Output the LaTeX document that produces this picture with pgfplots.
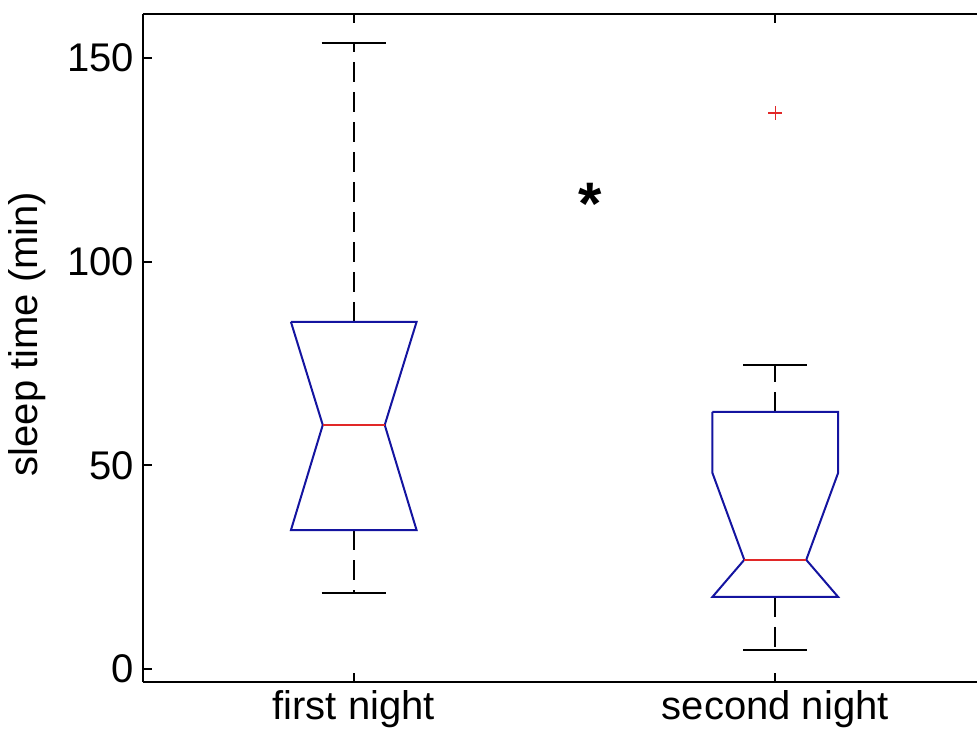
\documentclass[border=0pt]{standalone}
\usepackage{fontspec}
\setmainfont{Liberation Sans}
\usepackage{pgfplots}
\pgfplotsset{compat=1.18}
\definecolor{boxblue}{RGB}{20,20,160}
\definecolor{medred}{RGB}{225,40,40}
\pgfplotsset{common/.style={
  at={(0,0)}, anchor=south west,
  scale only axis,
  width=333.6pt, height=267.2pt,
  xmin=0.5, xmax=2.4786, ymin=-3.2, ymax=160.8,
  tick align=inside,
  major tick length=3.6pt,
  axis line style={line width=0.8pt},
  tick style={line width=0.8pt, black},
  clip=false,
}}
\begin{document}
\begin{tikzpicture}
\useasboundingbox (-57.2pt,-19.6pt) rectangle (333.6pt,272.8pt);
\begin{axis}[common,
  axis x line*=top, axis y line=none,
  xtick={1,2}, xticklabels={,},
]
\end{axis}
\begin{axis}[common,
  axis x line*=bottom, axis y line*=left,
  xtick={1,2}, xticklabels={first night,second night},
  ytick={0,50,100,150},
  every tick label/.append style={font=\fontsize{16}{18}\selectfont},
  /pgf/number format/assume math mode=true,
  ylabel={sleep time (min)},
  ylabel style={font=\fontsize{16}{18}\selectfont, at={(rel axis cs:-0.1391,0.521)}, anchor=center},
]
% whiskers
\addplot[black, line width=0.8pt, dash pattern=on 8pt off 4pt] coordinates {(1,85.2) (1,153.7)};
\addplot[black, line width=0.8pt, dash pattern=on 8pt off 4pt] coordinates {(1,34.1) (1,18.7)};
\addplot[black, line width=0.8pt] coordinates {(0.924,153.7) (1.076,153.7)};
\addplot[black, line width=0.8pt] coordinates {(0.924,18.7) (1.076,18.7)};
\addplot[black, line width=0.8pt, dash pattern=on 8pt off 4pt] coordinates {(2,63.1) (2,74.6)};
\addplot[black, line width=0.8pt, dash pattern=on 8pt off 4pt] coordinates {(2,17.7) (2,4.7)};
\addplot[black, line width=0.8pt] coordinates {(1.924,74.6) (2.076,74.6)};
\addplot[black, line width=0.8pt] coordinates {(1.924,4.7) (2.076,4.7)};
% boxes
\addplot[boxblue, line width=0.8pt] coordinates {(0.851,85.2) (1.149,85.2) (1.0735,59.9) (1.149,34.1) (0.851,34.1) (0.9265,59.9) (0.851,85.2)};
\addplot[boxblue, line width=0.8pt] coordinates {(1.851,63.1) (2.149,63.1) (2.149,48.1) (2.0735,26.8) (2.149,17.7) (1.851,17.7) (1.9265,26.8) (1.851,48.1) (1.851,63.1)};
% medians
\addplot[medred, line width=0.8pt] coordinates {(0.9265,59.9) (1.0735,59.9)};
\addplot[medred, line width=0.8pt] coordinates {(1.9265,26.8) (2.0735,26.8)};
% outlier
\addplot[only marks, mark=+, mark size=2.8pt, medred, line width=0.6pt] coordinates {(2,136.5)};
% significance star
\node[anchor=base, font=\bfseries\fontsize{24}{26}\selectfont, inner sep=0pt] at (axis cs:1.56,109) {*};
\end{axis}
\end{tikzpicture}
\end{document}
